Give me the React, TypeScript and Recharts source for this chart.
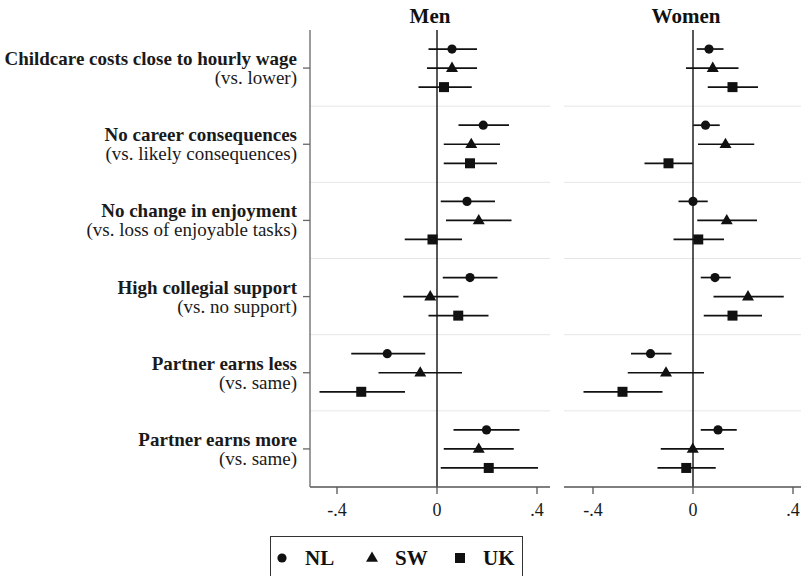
import { ScatterChart, Scatter, XAxis, YAxis, ErrorBar, ReferenceLine } from 'recharts'

const serif = '"Liberation Serif", "DejaVu Serif", serif'

const groupLabels = [
  'Childcare costs close to hourly wage',
  'No career consequences',
  'No change in enjoyment',
  'High collegial support',
  'Partner earns less',
  'Partner earns more',
]
const groupNotes = [
  '(vs. lower)',
  '(vs. likely consequences)',
  '(vs. loss of enjoyable tasks)',
  '(vs. no support)',
  '(vs. same)',
  '(vs. same)',
]
const countries = ['NL', 'SW', 'UK']
const xTicks = [-0.4, 0, 0.4]

// [estimate, lower, upper] for each attribute, top to bottom
const menNL = [[0.06, -0.034, 0.16], [0.185, 0.086, 0.288], [0.12, 0.015, 0.232], [0.132, 0.023, 0.242], [-0.199, -0.343, -0.047], [0.198, 0.066, 0.33]]
const menSW = [[0.06, -0.04, 0.16], [0.137, 0.027, 0.252], [0.167, 0.036, 0.298], [-0.027, -0.135, 0.086], [-0.067, -0.234, 0.1], [0.167, 0.027, 0.307]]
const menUK = [[0.028, -0.074, 0.139], [0.132, 0.027, 0.24], [-0.018, -0.129, 0.1], [0.085, -0.034, 0.206], [-0.303, -0.47, -0.128], [0.207, 0.015, 0.404]]
const womenNL = [[0.064, 0.015, 0.122], [0.05, 0.001, 0.107], [0, -0.058, 0.059], [0.088, 0.031, 0.151], [-0.17, -0.248, -0.086], [0.1, 0.031, 0.175]]
const womenSW = [[0.079, -0.028, 0.182], [0.13, 0.02, 0.245], [0.135, 0.017, 0.256], [0.22, 0.082, 0.363], [-0.108, -0.261, 0.044], [-0.001, -0.129, 0.124]]
const womenUK = [[0.158, 0.059, 0.26], [-0.098, -0.194, -0.001], [0.021, -0.078, 0.124], [0.158, 0.043, 0.276], [-0.282, -0.438, -0.122], [-0.027, -0.142, 0.091]]

const INK = '#111'

function Marker({ kind, cx = 0, cy = 0 }: { kind: string; cx?: number; cy?: number }) {
  if (kind === 'NL') return <circle cx={cx} cy={cy} r={4.6} fill={INK} />
  if (kind === 'SW')
    return <polygon points={`${cx},${cy - 6.5} ${cx - 6},${cy + 3.8} ${cx + 6},${cy + 3.8}`} fill={INK} />
  return <rect x={cx - 5} y={cy - 5} width={10} height={10} fill={INK} />
}

function toRows(series: number[][], k: number) {
  return series.map(([est, lo, hi], g) => ({ x: est, y: g * 4 + k + 1, err: [est - lo, hi - est] }))
}

function GroupTick(props: { x?: number; y?: number; payload?: { value: number } }) {
  const { x = 0, y = 0, payload } = props
  const g = Math.round(((payload?.value ?? 2) - 2) / 4)
  return (
    <g>
      <text x={x} y={y - 3} textAnchor="end" fontFamily={serif} fontSize={19} fontWeight="bold" fill="#1a1a1a">
        {groupLabels[g]}
      </text>
      <text x={x} y={y + 16} textAnchor="end" fontFamily={serif} fontSize={19} fill="#1a1a1a">
        {groupNotes[g]}
      </text>
    </g>
  )
}

function Panel({ series, domain, withLabels, width, left }: {
  series: number[][][]; domain: [number, number]; withLabels: boolean; width: number; left: number
}) {
  return (
    <div style={{ position: 'absolute', left, top: 0 }}>
      <ScatterChart width={width} height={576}
        margin={{ top: 30, right: withLabels ? 2 : 0, bottom: 59, left: withLabels ? 0 : 12 }}>
        <XAxis type="number" dataKey="x" domain={domain} allowDataOverflow ticks={xTicks}
          tickFormatter={(v: number) => (v === 0 ? '0' : String(v).replace('0.', '.'))}
          stroke="#555" strokeWidth={1.3} tickSize={7} tickMargin={9} height={30}
          tick={{ fill: '#1a1a1a', fontSize: 18, fontFamily: serif }} />
        <YAxis type="number" dataKey="y" domain={[0, 24]} reversed ticks={[2, 6, 10, 14, 18, 22]}
          hide={!withLabels} width={310} stroke="#666" strokeWidth={1.3} tickSize={7} tickMargin={6}
          tick={<GroupTick />} />
        {[4, 8, 12, 16, 20].map(v => (
          <ReferenceLine key={v} y={v} stroke="#e6e6e6" strokeWidth={1} />
        ))}
        <ReferenceLine x={0} stroke={INK} strokeWidth={1.4} />
        {countries.map((c, k) => (
          <Scatter key={c} name={c} data={toRows(series[k], k)} isAnimationActive={false}
            shape={(p: { cx?: number; cy?: number }) => <Marker kind={c} cx={p.cx} cy={p.cy} />}>
            <ErrorBar dataKey="err" direction="x" width={0} stroke={INK} strokeWidth={1.7}
              isAnimationActive={false} />
          </Scatter>
        ))}
      </ScatterChart>
    </div>
  )
}

export default function App() {
  return (
    <div style={{ position: 'absolute', left: 0, top: 0, width: 801, height: 576, overflow: 'hidden', background: '#fff' }}>
      <div style={{ position: 'absolute', left: 310, width: 240, top: 4, textAlign: 'center', fontFamily: serif, fontWeight: 'bold', fontSize: 21, color: '#111' }}>Men</div>
      <div style={{ position: 'absolute', left: 564, width: 244, top: 4, textAlign: 'center', fontFamily: serif, fontWeight: 'bold', fontSize: 21, color: '#111' }}>Women</div>
      <Panel series={[menNL, menSW, menUK]} domain={[-0.508, 0.452]} withLabels width={552} left={0} />
      <Panel series={[womenNL, womenSW, womenUK]} domain={[-0.516, 0.432]} withLabels={false} width={249} left={552} />
      <div style={{ position: 'absolute', left: 270, top: 536, width: 253, height: 44, boxSizing: 'border-box', border: '1.5px solid #333' }}>
        <svg width={253} height={44} style={{ position: 'absolute', left: -1.5, top: -1.5 }}>
          {countries.map((c, k) => {
            const mx = [12, 102, 190][k]
            return (
              <g key={c}>
                <Marker kind={c} cx={mx} cy={22} />
                <text x={mx + 23} y={29} fontFamily={serif} fontWeight="bold" fontSize={21} fill="#111">{c}</text>
              </g>
            )
          })}
        </svg>
      </div>
    </div>
  )
}
